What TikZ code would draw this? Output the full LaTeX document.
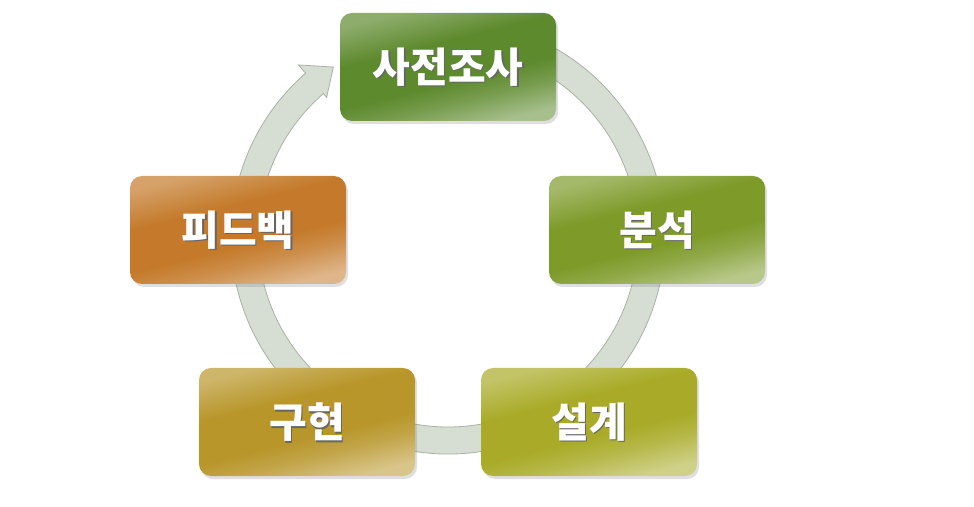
\documentclass[tikz,border=0pt]{standalone}
\usepackage{fontspec}
\newfontfamily\kr{Noto Sans CJK KR}
\usetikzlibrary{shadows, calc}

\definecolor{cpre}{HTML}{5E8A2E}
\definecolor{cana}{HTML}{7E9B2A}
\definecolor{cdes}{HTML}{A9AB28}
\definecolor{cimp}{HTML}{B8962A}
\definecolor{cfb}{HTML}{C47A2A}
\definecolor{ringfill}{HTML}{D6DDD3}
\definecolor{ringline}{HTML}{A8B2A2}
\colorlet{boxdark}{cpre}

\pgfdeclareverticalshading[boxdark]{glossy}{100bp}{%
    color(0bp)=(boxdark!55); color(25bp)=(boxdark!55); color(36bp)=(boxdark!85);
    color(44bp)=(boxdark); color(60bp)=(boxdark); color(75bp)=(boxdark!70);
    color(100bp)=(boxdark!70)}

\begin{document}
\begin{tikzpicture}[x=1pt, y=1pt,
    stepbox/.style 2 args={rounded corners=12pt, minimum width=216pt, minimum height=108pt,
        drop shadow={shadow xshift=2pt, shadow yshift=-3pt, opacity=.25},
        /utils/exec={\colorlet{boxdark}{#1}}, shading=glossy, shading angle=14,
        label={[text=black!60, xshift=1.6pt, yshift=-1.6pt]center:#2},
        label={[text=white]center:#2}},
    every label/.style={font=\kr\bfseries\fontsize{41}{44}\selectfont}]

    \useasboundingbox (0,0) rectangle (974,506);
    \coordinate (ctr) at (448,269);

    % ring with arrow head
    \filldraw[fill=ringfill, draw=ringline, line width=0.8pt]
        ($(ctr)+(75:217)$) arc[start angle=75, end angle=-229, radius=217pt]
        -- ($(ctr)+(-229:228)$) -- ($(ctr)+(-236:205)$) -- ($(ctr)+(-229:185)$)
        -- ($(ctr)+(-229:190)$) arc[start angle=-229, end angle=75, radius=190pt] -- cycle;

    \node[stepbox={cpre}{사전조사}] (pre) at (448,439) {};
    \node[stepbox={cana}{분석}]     (ana) at (657,276) {};
    \node[stepbox={cdes}{설계}]     (des) at (589,84)  {};
    \node[stepbox={cimp}{구현}]     (imp) at (307,84)  {};
    \node[stepbox={cfb}{피드백}]    (fb)  at (238,276) {};
\end{tikzpicture}
\end{document}
